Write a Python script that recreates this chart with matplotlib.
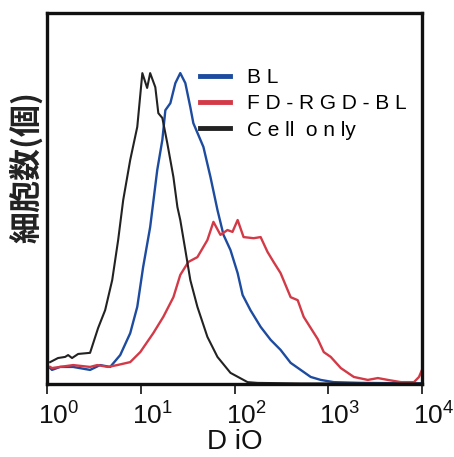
import matplotlib
matplotlib.use("Agg")
import matplotlib.pyplot as plt
from matplotlib.transforms import ScaledTranslation
from matplotlib.ticker import FixedLocator, NullLocator

plt.rcParams['font.family'] = ['Liberation Sans', 'DejaVu Sans']

# Cell only (black)
cell_x = [1.08, 1.31, 1.56, 1.68, 1.85, 2.15, 2.88, 3.51, 4.17, 4.96, 5.74, 6.50, 7.72,
          9.18, 10.4, 11.7, 12.6, 14.3, 15.4, 17.0, 19.2, 22.3, 24.6, 26.4, 29.9, 33.8,
          40.2, 51.4, 65.8, 90.6, 138, 176, 508, 10000]
cell_y = [5.9, 7.0, 7.3, 7.8, 7.0, 8.1, 8.4, 15.1, 19.9, 28.0, 38.8, 49.6, 60.4,
          69.3, 83.8, 79.8, 83.8, 80.0, 73.0, 71.7, 64.9, 55.8, 47.7, 44.2, 36.1, 28.0,
          20.8, 12.7, 7.3, 3.0, 0.5, 0.3, 0.15, 0.15]

# BL (blue)
bl_x = [1.08, 1.13, 1.38, 1.90, 2.88, 3.69, 4.72, 6.04, 7.72, 9.18, 10.6, 12.6, 15.0,
        17.0, 18.3, 20.7, 23.4, 26.4, 29.9, 33.8, 36.4, 46.6, 55.4, 65.8, 76.3, 90.6,
        108, 122, 148, 190, 243, 310, 397, 508, 650, 831, 1145, 2228, 10000]
bl_y = [4.3, 3.8, 4.6, 4.6, 3.8, 5.1, 4.6, 7.8, 13.7, 20.8, 31.5, 42.3, 57.7,
        65.8, 73.8, 75.7, 81.1, 83.8, 81.1, 74.6, 70.3, 63.9, 55.8, 46.9, 40.2, 36.1,
        29.9, 24.0, 19.9, 15.4, 11.9, 9.2, 5.7, 3.8, 1.9, 1.1, 0.5, 0.3, 0.15]

# FD-RGD-BL (red)
fd_x = [1.08, 1.13, 1.90, 2.88, 3.43, 4.49, 5.61, 7.72, 9.88, 13.6, 17.4, 22.3, 26.4,
        32.2, 40.2, 51.4, 59.6, 70.8, 84.1, 95.2, 108, 125, 160, 190, 225, 261, 310,
        397, 472, 547, 650, 773, 896, 1063, 1361, 1874, 2642, 3383, 4329, 5957, 8204,
        9290, 10000]
fd_y = [4.6, 4.3, 5.1, 4.6, 5.1, 4.6, 5.1, 5.9, 8.6, 13.7, 18.1, 23.4, 29.4,
        32.9, 34.2, 38.8, 43.7, 40.2, 41.5, 41.0, 44.2, 39.6, 39.3, 39.6, 35.6, 32.9, 29.9,
        23.4, 22.6, 18.1, 15.1, 12.1, 8.6, 7.3, 4.3, 1.9, 1.1, 1.6, 1.1, 0.5, 0.5,
        1.9, 3.8]

series_labels = ["B L", "F D - R G D - B L", "C e ll  o n ly"]
x_ticks = [1, 10, 100, 1000, 10000]
x_label = "D iO"
y_label = "細胞数(個)"

W, H = 454, 457
fig = plt.figure(figsize=(W / 100, H / 100), dpi=100)
ax = fig.add_axes([47 / W, 1 - 384 / H, (422 - 47) / W, (384 - 13) / H])

blue = "#1d4b9f"
red = "#d33a47"
black = "#222222"

l1, = ax.plot(bl_x, bl_y, color=blue, lw=1.7)
l2, = ax.plot(fd_x, fd_y, color=red, lw=1.7)
l3, = ax.plot(cell_x, cell_y, color=black, lw=1.5)

ax.set_xscale('log')
ax.set_xlim(1, 10000)
ax.set_ylim(0, 100)
ax.xaxis.set_major_locator(FixedLocator(x_ticks))
ax.xaxis.set_minor_locator(NullLocator())
ax.set_yticks([])

for s in ax.spines.values():
    s.set_linewidth(2.4)
    s.set_color("#111111")

ax.tick_params(axis='x', direction='out', length=7.5, width=1.2, pad=6,
               labelsize=19, colors="#111111")
offset = ScaledTranslation(-9 / 100, 0, fig.dpi_scale_trans)
for lab in ax.get_xticklabels():
    lab.set_horizontalalignment('left')
    lab.set_transform(lab.get_transform() + offset)

ax.set_xlabel(x_label, fontsize=20, labelpad=-1, color="#111111")

fig.text(26 / W, 1 - 167 / H, y_label, rotation=90, ha='center', va='center',
         fontsize=23, fontweight='bold',
         family=['Noto Sans CJK JP', 'DejaVu Sans'], color="#222222")

leg = ax.legend([l1, l2, l3], series_labels, loc='upper left',
                bbox_to_anchor=((200 - 47) / 375, (384 - 68) / 371),
                frameon=False, fontsize=15, handlelength=1.45, handletextpad=0.82,
                labelspacing=0.35, borderpad=0, borderaxespad=0)
for h in leg.legend_handles:
    h.set_linewidth(3.5)

fig.savefig("out.png", dpi=100)
